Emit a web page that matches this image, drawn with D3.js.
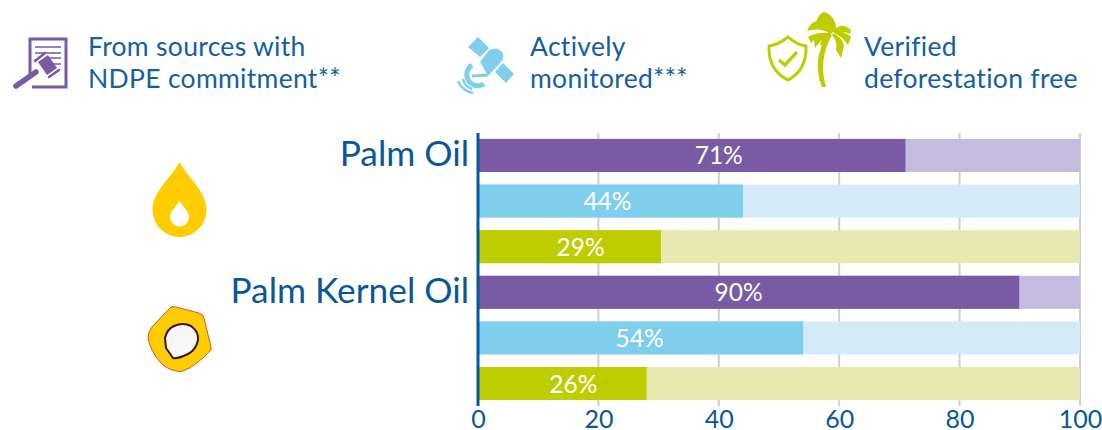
<!DOCTYPE html>
<html>
<head>
<meta charset="utf-8">
<script src="https://cdn.jsdelivr.net/npm/d3@7"></script>
<style>
    html, body { margin: 0; padding: 0; background: #fff; }
    svg { display: block; font-family: Lato, "Noto Sans", sans-serif; }
    .legend-text { font-size: 26.5px; fill: #14609f; font-weight: 400; letter-spacing: 0.3px; }
    .oil-label { font-size: 35.3px; fill: #06589a; font-weight: 400; text-anchor: end; }
    .bar-label { font-size: 24.5px; fill: #fff; text-anchor: middle; }
    .tick text { font-size: 25px; fill: #06589a; font-family: Lato, "Noto Sans", sans-serif; }
</style>
</head>
<body>
<svg id="d3-palm" width="1102" height="430"></svg>
<script>
/*********************/
/*** INIT VARIABLE ***/
/*********************/

const oils = ["Palm Oil", "Palm Kernel Oil"];
const measures = ["ndpe", "monitored", "verified"];
const bar_values = [71, 44, 30.4, 89.9, 54, 28];
const bar_labels = ["71%", "44%", "29%", "90%", "54%", "26%"];
const ticks = [0, 20, 40, 60, 80, 100];

const dark_colors = {ndpe: "#785aa5", monitored: "#7fcfec", verified: "#bfcd00"};
const light_colors = {ndpe: "#c5bbdf", monitored: "#d3ebf8", verified: "#e7e9b0"};

// the labels in the source sit a little off the bar centre
const label_shift = [27, -3, 11, -10, -1, 11];

let svg = d3.select("#d3-palm");

let x = d3.scaleLinear().domain([0, 100]).range([478, 1080]);

let rows = d3.range(oils.length * measures.length);
let y = d3.scaleBand().domain(rows).range([133, 406]).paddingInner(0.275).paddingOuter(0.13);

/********************************/
/*** DECLARE HELPER FUNCTIONS ***/
/********************************/

function render_grid() {
    svg.selectAll("line.grid")
        .data(ticks.slice(1)).enter()
        .append("line")
        .classed("grid", true)
        .attr("x1", (d) => x(d))
        .attr("x2", (d) => x(d))
        .attr("y1", 133)
        .attr("y2", 406)
        .attr("stroke", "#cfcfcf")
        .attr("stroke-width", 2);
}

function render_bars() {
    let measure = (i) => measures[i % measures.length];

    svg.selectAll("rect.bg")
        .data(rows).enter()
        .append("rect")
        .classed("bg", true)
        .attr("x", x(0))
        .attr("y", (d) => y(d))
        .attr("width", x(100) - x(0))
        .attr("height", y.bandwidth())
        .attr("fill", (d) => light_colors[measure(d)]);

    svg.selectAll("rect.value")
        .data(rows).enter()
        .append("rect")
        .classed("value", true)
        .attr("x", x(0))
        .attr("y", (d) => y(d))
        .attr("width", (d) => x(bar_values[d]) - x(0))
        .attr("height", y.bandwidth())
        .attr("fill", (d) => dark_colors[measure(d)]);

    svg.selectAll("text.bar-label")
        .data(rows).enter()
        .append("text")
        .classed("bar-label", true)
        .attr("x", (d) => (x(0) + x(bar_values[d])) / 2 + label_shift[d])
        .attr("y", (d) => y(d) + y.bandwidth() / 2 + 9)
        .text((d) => bar_labels[d]);
}

function render_axes() {
    svg.append("line")
        .attr("x1", x(0))
        .attr("x2", x(0))
        .attr("y1", 133)
        .attr("y2", 406)
        .attr("stroke", "#06589a")
        .attr("stroke-width", 3);

    let axis = svg.append("g")
        .attr("transform", "translate(0, 406)")
        .call(d3.axisBottom(x).tickValues(ticks).tickSize(0).tickPadding(4));
    axis.select(".domain").remove();

    svg.selectAll("text.oil-label")
        .data(oils).enter()
        .append("text")
        .classed("oil-label", true)
        .attr("x", 469)
        .attr("y", (d, i) => y(i * measures.length) + 27)
        .text((d) => d);
}

function render_legend() {
    let lines = [
        {x: 88, text: ["From sources with", "NDPE commitment**"]},
        {x: 530, text: ["Actively", "monitored***"]},
        {x: 864, text: ["Verified", "deforestation free"]}
    ];
    lines.forEach((l) => {
        l.text.forEach((t, i) => {
            svg.append("text")
                .classed("legend-text", true)
                .attr("x", l.x)
                .attr("y", 56 + i * 32)
                .text(t);
        });
    });
}

function render_icons() {
    let purple = dark_colors.ndpe, blue = dark_colors.monitored, green = dark_colors.verified;

    // gavel on a document
    let gavel = svg.append("g");
    gavel.append("path")
        .attr("d", "M30,74V39H66V87H32")
        .attr("fill", "none").attr("stroke", purple).attr("stroke-width", 3);
    gavel.append("path")
        .attr("d", "M35,47H61M35,53H61M50,58H61M52,64H61")
        .attr("fill", "none").attr("stroke", purple).attr("stroke-width", 1.6);
    gavel.append("path")
        .attr("d", "M16,86L36,72")
        .attr("stroke", purple).attr("stroke-width", 5.5).attr("stroke-linecap", "round");
    gavel.append("path")
        .attr("d", "M38,62L48,55L57,68L47,75Z").attr("fill", purple);
    gavel.append("path")
        .attr("d", "M35,61L45,53M49,77L59,70")
        .attr("stroke", purple).attr("stroke-width", 2.6).attr("stroke-linecap", "round");

    // satellite
    let sat = svg.append("g").attr("fill", blue);
    sat.append("path").attr("d", "M478,37L489,48L480,57L468,47Z");
    sat.append("path").attr("d", "M503,63L514,74L506,83L495,72Z");
    sat.append("path").attr("d", "M480,62L489,50Q497,46 502,52Q505,57 501,62L488,76Z");
    sat.append("path")
        .attr("d", "M472,65A11,11 0 0 0 484,84")
        .attr("fill", "none").attr("stroke", blue).attr("stroke-width", 5);
    sat.append("path")
        .attr("d", "M472,76L488,75")
        .attr("stroke", blue).attr("stroke-width", 3);
    sat.append("path")
        .attr("d", "M463,79A14,14 0 0 0 472,89M458,81A20,20 0 0 0 473,93")
        .attr("fill", "none").attr("stroke", blue).attr("stroke-width", 2.4);

    // shield with a tick
    let shield = svg.append("g").attr("fill", "none").attr("stroke", green);
    shield.append("path")
        .attr("d", "M788,37Q778,45 769,46Q768,70 788,80Q807,70 806,46Q797,45 788,37Z")
        .attr("stroke-width", 3);
    shield.append("path")
        .attr("d", "M779,60L785,65L797,52")
        .attr("stroke-width", 3.4);

    // palm tree
    let palm = svg.append("g").attr("fill", green);
    palm.append("path").attr("d", "M822,87Q811,60 828,34L832,35Q818,60 826,87Z");
    palm.append("path").attr("d", "M830,34Q826,24 815,26Q818,13 824,12Q834,14 837,30Z");
    palm.append("path").attr("d", "M829,33Q820,27 807,31Q810,22 817,21Q826,22 831,30Z");
    palm.append("path").attr("d", "M834,31Q841,21 851,30L850,34Q842,30 835,33Z");
    palm.append("path").attr("d", "M834,31Q846,31 851,37L848,45Q842,36 834,33Z");
    palm.append("path").attr("d", "M829,33Q816,32 808,37L811,43L814,40L815,48Q822,38 830,35Z");
    palm.append("path").attr("d", "M833,33Q843,38 844,46L841,58L836,50Q838,42 832,35Z");
    palm.append("path").attr("d", "M831,34Q826,38 824,48L820,44Q823,36 829,32Z");

    // oil drop
    let drop = svg.append("g");
    drop.append("path")
        .attr("d", "M179.5,162C187,177 206.5,191 206.5,210A27,27 0 0 1 152.5,210C152.5,191 172,177 179.5,162Z")
        .attr("fill", "#ffcc00");
    drop.append("path")
        .attr("d", "M179.5,200.5C182,206 189,211 189,217A9.5,9.5 0 0 1 170,217C170,211 177,206 179.5,200.5Z")
        .attr("fill", "#fff");

    // palm kernel
    let kernel = svg.append("g");
    kernel.append("path")
        .attr("d", "M171,307Q173,306 176,307L199,313Q203,314 204,318L211,347Q212,350 209,352Q196,366 183,371Q180,372 176,371Q166,369 160,362Q150,350 148,338Q148,332 152,327Q160,318 171,307Z")
        .attr("fill", "#ffcc00").attr("stroke", "#c8302c").attr("stroke-width", 0.8);
    kernel.append("path")
        .attr("d", "M165,338Q167,329 174,326Q183,322 191,326Q199,332 198,340Q196,350 188,354Q178,359 173,358Q169,352 166,348Z")
        .attr("fill", "#f7f7f7").attr("stroke", "#3a1410").attr("stroke-width", 2);
}

/**************/
/*** RENDER ***/
/**************/

render_icons();
render_legend();
render_grid();
render_bars();
render_axes();
</script>
</body>
</html>
